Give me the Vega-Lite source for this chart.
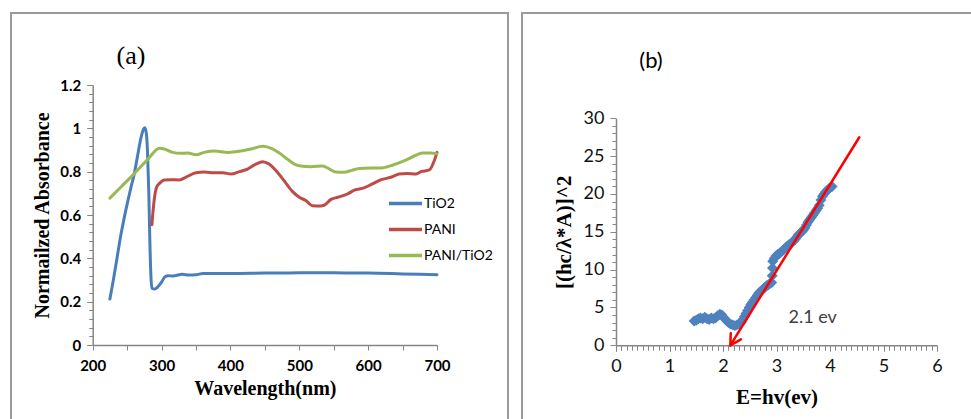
{
"$schema":"https://vega.github.io/schema/vega-lite/v6.json",
"padding":{"left":10,"top":12,"right":0,"bottom":0},
"bounds":"flush",
"spacing":14,
"config":{"view":{"stroke":"#9a9a9a","strokeWidth":2},"font":"Lato",
 "axis":{"grid":false,"domainColor":"#868686","tickColor":"#868686","domainWidth":1.5,"tickWidth":1,"labelColor":"#000","titleColor":"#000","labelFlush":false,"labelOverlap":false}},
"hconcat":[
{
 "width":497,"height":410,
 "resolve":{"axis":{"x":"independent","y":"independent"}},
 "layer":[
  {"data":{"values":[
{"w":225,"a":0.212,"s":"TiO2"},{"w":230,"a":0.30,"s":"TiO2"},{"w":235,"a":0.395,"s":"TiO2"},{"w":241,"a":0.51,"s":"TiO2"},{"w":245,"a":0.575,"s":"TiO2"},{"w":250,"a":0.65,"s":"TiO2"},{"w":255,"a":0.72,"s":"TiO2"},{"w":260,"a":0.785,"s":"TiO2"},{"w":265,"a":0.87,"s":"TiO2"},{"w":270,"a":0.955,"s":"TiO2"},{"w":273,"a":0.99,"s":"TiO2"},{"w":275.5,"a":1.003,"s":"TiO2"},{"w":277.5,"a":0.985,"s":"TiO2"},{"w":279.5,"a":0.9,"s":"TiO2"},{"w":281.5,"a":0.7,"s":"TiO2"},{"w":283,"a":0.48,"s":"TiO2"},{"w":284.5,"a":0.32,"s":"TiO2"},{"w":286,"a":0.262,"s":"TiO2"},{"w":290,"a":0.258,"s":"TiO2"},{"w":295,"a":0.27,"s":"TiO2"},{"w":300,"a":0.29,"s":"TiO2"},{"w":305,"a":0.315,"s":"TiO2"},{"w":310,"a":0.32,"s":"TiO2"},{"w":316,"a":0.318,"s":"TiO2"},{"w":322,"a":0.322,"s":"TiO2"},{"w":330,"a":0.326,"s":"TiO2"},{"w":340,"a":0.323,"s":"TiO2"},{"w":350,"a":0.324,"s":"TiO2"},{"w":360,"a":0.33,"s":"TiO2"},{"w":380,"a":0.33,"s":"TiO2"},{"w":400,"a":0.33,"s":"TiO2"},{"w":450,"a":0.332,"s":"TiO2"},{"w":500,"a":0.333,"s":"TiO2"},{"w":550,"a":0.333,"s":"TiO2"},{"w":600,"a":0.332,"s":"TiO2"},{"w":650,"a":0.328,"s":"TiO2"},{"w":700,"a":0.324,"s":"TiO2"},
{"w":286,"a":0.555,"s":"PANI"},{"w":288,"a":0.63,"s":"PANI"},{"w":290.5,"a":0.697,"s":"PANI"},{"w":293,"a":0.73,"s":"PANI"},{"w":297,"a":0.746,"s":"PANI"},{"w":304,"a":0.762,"s":"PANI"},{"w":314,"a":0.763,"s":"PANI"},{"w":326,"a":0.762,"s":"PANI"},{"w":335,"a":0.774,"s":"PANI"},{"w":350,"a":0.795,"s":"PANI"},{"w":362,"a":0.798,"s":"PANI"},{"w":377,"a":0.795,"s":"PANI"},{"w":389,"a":0.795,"s":"PANI"},{"w":401,"a":0.789,"s":"PANI"},{"w":413,"a":0.80,"s":"PANI"},{"w":425,"a":0.812,"s":"PANI"},{"w":437,"a":0.835,"s":"PANI"},{"w":447,"a":0.846,"s":"PANI"},{"w":456,"a":0.835,"s":"PANI"},{"w":466,"a":0.805,"s":"PANI"},{"w":478,"a":0.758,"s":"PANI"},{"w":490,"a":0.709,"s":"PANI"},{"w":500,"a":0.682,"s":"PANI"},{"w":510,"a":0.666,"s":"PANI"},{"w":519,"a":0.643,"s":"PANI"},{"w":531,"a":0.642,"s":"PANI"},{"w":536,"a":0.645,"s":"PANI"},{"w":546,"a":0.672,"s":"PANI"},{"w":556,"a":0.682,"s":"PANI"},{"w":570,"a":0.697,"s":"PANI"},{"w":580,"a":0.715,"s":"PANI"},{"w":594,"a":0.725,"s":"PANI"},{"w":604,"a":0.74,"s":"PANI"},{"w":619,"a":0.763,"s":"PANI"},{"w":633,"a":0.774,"s":"PANI"},{"w":645,"a":0.789,"s":"PANI"},{"w":657,"a":0.792,"s":"PANI"},{"w":669,"a":0.789,"s":"PANI"},{"w":677,"a":0.80,"s":"PANI"},{"w":689,"a":0.808,"s":"PANI"},{"w":696,"a":0.85,"s":"PANI"},{"w":700,"a":0.889,"s":"PANI"},
{"w":225,"a":0.678,"s":"PANI/TiO2"},{"w":240,"a":0.726,"s":"PANI/TiO2"},{"w":260,"a":0.79,"s":"PANI/TiO2"},{"w":280,"a":0.857,"s":"PANI/TiO2"},{"w":297,"a":0.908,"s":"PANI/TiO2"},{"w":304,"a":0.905,"s":"PANI/TiO2"},{"w":316,"a":0.889,"s":"PANI/TiO2"},{"w":328,"a":0.885,"s":"PANI/TiO2"},{"w":338,"a":0.886,"s":"PANI/TiO2"},{"w":350,"a":0.878,"s":"PANI/TiO2"},{"w":362,"a":0.889,"s":"PANI/TiO2"},{"w":377,"a":0.895,"s":"PANI/TiO2"},{"w":396,"a":0.889,"s":"PANI/TiO2"},{"w":415,"a":0.895,"s":"PANI/TiO2"},{"w":430,"a":0.905,"s":"PANI/TiO2"},{"w":447,"a":0.917,"s":"PANI/TiO2"},{"w":461,"a":0.905,"s":"PANI/TiO2"},{"w":471,"a":0.886,"s":"PANI/TiO2"},{"w":483,"a":0.857,"s":"PANI/TiO2"},{"w":493,"a":0.835,"s":"PANI/TiO2"},{"w":502,"a":0.826,"s":"PANI/TiO2"},{"w":517,"a":0.823,"s":"PANI/TiO2"},{"w":534,"a":0.826,"s":"PANI/TiO2"},{"w":541,"a":0.817,"s":"PANI/TiO2"},{"w":551,"a":0.80,"s":"PANI/TiO2"},{"w":565,"a":0.797,"s":"PANI/TiO2"},{"w":575,"a":0.805,"s":"PANI/TiO2"},{"w":587,"a":0.815,"s":"PANI/TiO2"},{"w":604,"a":0.817,"s":"PANI/TiO2"},{"w":619,"a":0.817,"s":"PANI/TiO2"},{"w":636,"a":0.831,"s":"PANI/TiO2"},{"w":653,"a":0.851,"s":"PANI/TiO2"},{"w":670,"a":0.877,"s":"PANI/TiO2"},{"w":679,"a":0.886,"s":"PANI/TiO2"},{"w":691,"a":0.886,"s":"PANI/TiO2"},{"w":700,"a":0.882,"s":"PANI/TiO2"}
  ]},
  "mark":{"type":"line","strokeWidth":3,"interpolate":"monotone","strokeCap":"round"},
   "encoding":{
    "x":{"field":"w","type":"quantitative","scale":{"domain":[200,700],"range":[81.7,426]},
     "axis":{"title":"Wavelength(nm)","orient":"bottom","offset":-78,"values":[200,300,400,500,600,700],"format":"d","tickSize":5,"labelPadding":8,"labelOverlap":false,"labelFlush":false,"labelFont":"Lato","labelFontWeight":"bold","labelFontSize":15,"titleFont":"Liberation Serif","titleFontSize":20,"titleFontWeight":"bold","titlePadding":5}},
    "y":{"field":"a","type":"quantitative","scale":{"domain":[0,1.2],"range":[332,72]},
     "axis":{"title":"Normailzed Absorbance","orient":"left","offset":-81.7,"values":[0,0.2,0.4,0.6,0.8,1,1.2],"format":"~g",
      "tickSize":6,"labelOverlap":false,"labelFlush":false,
      "labelPadding":6,"labelFont":"Lato","labelFontWeight":"bold","labelFontSize":15,"titleFont":"Liberation Serif","titleFontSize":20,"titleFontWeight":"bold","titlePadding":7}},
    "color":{"field":"s","type":"nominal","scale":{"domain":["TiO2","PANI","PANI/TiO2"],"range":["#4A7EBB","#BE4B48","#98B954"]},
     "legend":{"orient":"none","legendX":376,"legendY":172,"title":null,"padding":0,"symbolType":"stroke","symbolSize":1089,"symbolStrokeWidth":3.5,"labelFont":"Lato","labelFontSize":14,"labelColor":"#000","labelOffset":0,"rowPadding":-5.3}}
   }},
  {"data":{"values":[{}]},
   "mark":{"type":"text","font":"Liberation Serif","fontSize":26,"align":"center","baseline":"middle","color":"#000"},
   "encoding":{
    "x":{"datum":255.6,"type":"quantitative","scale":{"domain":[200,700],"range":[81.7,426]},
     "axis":{"orient":"bottom","offset":-78,"values":[250,350,450,550,650],"labels":false,"domain":false,"title":null,"tickSize":5}},
    "y":{"datum":1.334,"type":"quantitative","scale":{"domain":[0,1.2],"range":[332,72]},
     "axis":{"orient":"left","offset":-81.7,"values":[0.04,0.08,0.12,0.16,0.24,0.28,0.32,0.36,0.44,0.48,0.52,0.56,0.64,0.68,0.72,0.76,0.84,0.88,0.92,0.96,1.04,1.08,1.12,1.16],"labels":false,"domain":false,"title":null,"tickSize":4}},
    "text":{"value":"(a)"}}}
 ]
},
{
 "width":470,"height":410,
 "resolve":{"axis":{"x":"independent","y":"independent"}},
 "layer":[
  {"data":{"values":[
{"e":1.46,"v":3.2},{"e":1.50,"v":3.3},{"e":1.54,"v":3.5},{"e":1.58,"v":3.6},{"e":1.62,"v":3.5},{"e":1.66,"v":3.7},{"e":1.70,"v":3.5},{"e":1.74,"v":3.4},{"e":1.78,"v":3.6},{"e":1.82,"v":3.5},{"e":1.86,"v":3.6},{"e":1.90,"v":3.9},{"e":1.94,"v":4.1},{"e":1.98,"v":4.0},{"e":2.02,"v":3.6},{"e":2.06,"v":3.3},{"e":2.10,"v":3.0},{"e":2.14,"v":2.8},{"e":2.18,"v":2.7},{"e":2.22,"v":2.6},{"e":2.26,"v":2.7},{"e":2.30,"v":2.8},{"e":2.34,"v":3.0},{"e":2.37,"v":3.4},{"e":2.40,"v":3.8},{"e":2.43,"v":4.2},{"e":2.46,"v":4.6},{"e":2.49,"v":5.0},{"e":2.52,"v":5.4},{"e":2.55,"v":5.7},{"e":2.58,"v":6.0},{"e":2.61,"v":6.3},{"e":2.64,"v":6.6},{"e":2.67,"v":6.9},{"e":2.70,"v":7.1},{"e":2.73,"v":7.3},{"e":2.76,"v":7.5},{"e":2.79,"v":7.7},{"e":2.82,"v":7.9},{"e":2.85,"v":8.0},{"e":2.88,"v":8.2},{"e":2.91,"v":8.3},{"e":2.92,"v":9.2},{"e":2.925,"v":10.2},{"e":2.93,"v":11.1},{"e":2.96,"v":11.5},{"e":2.99,"v":11.8},{"e":3.02,"v":12.0},{"e":3.05,"v":12.1},{"e":3.08,"v":12.3},{"e":3.11,"v":12.5},{"e":3.14,"v":12.7},{"e":3.17,"v":12.9},{"e":3.20,"v":13.1},{"e":3.23,"v":13.3},{"e":3.26,"v":13.4},{"e":3.29,"v":13.6},{"e":3.32,"v":13.8},{"e":3.35,"v":14.0},{"e":3.38,"v":14.3},{"e":3.41,"v":14.6},{"e":3.44,"v":14.8},{"e":3.47,"v":15.0},{"e":3.50,"v":15.2},{"e":3.53,"v":15.5},{"e":3.56,"v":15.9},{"e":3.59,"v":16.3},{"e":3.62,"v":16.6},{"e":3.65,"v":16.9},{"e":3.68,"v":17.2},{"e":3.71,"v":17.5},{"e":3.74,"v":17.8},{"e":3.77,"v":18.1},{"e":3.80,"v":18.5},{"e":3.83,"v":19.2},{"e":3.86,"v":19.7},{"e":3.89,"v":20.0},{"e":3.92,"v":20.3},{"e":3.95,"v":20.5},{"e":3.98,"v":20.7},{"e":4.01,"v":20.9},{"e":4.04,"v":21.0}
   ]},
   "mark":{"type":"point","shape":"diamond","filled":true,"size":120,"opacity":1,"color":"#4F81BD"},
   "encoding":{
    "x":{"field":"e","type":"quantitative","scale":{"domain":[0,6],"range":[94,415]},
     "axis":{"title":"E=hv(ev)","orient":"bottom","offset":-77.7,"values":[0,1,2,3,4,5,6],"format":"d",
      "tickSize":6,"labelOverlap":false,"labelFlush":false,
      "labelPadding":6,"labelFont":"Lato","labelFontSize":18,"labelColor":"#111","titleFont":"Liberation Serif","titleFontSize":21,"titleFontWeight":"bold","titlePadding":11}},
    "y":{"field":"v","type":"quantitative","scale":{"domain":[0,30],"range":[332.3,105.3]},
     "axis":{"title":"[(hc/λ*A)]^2","orient":"left","offset":-94,"values":[0,5,10,15,20,25,30],"format":"d",
      "tickSize":6,"labelOverlap":false,"labelFlush":false,
      "labelPadding":6,"labelFont":"Lato","labelFontSize":18,"labelColor":"#111","titleFont":"Liberation Serif","titleFontSize":21,"titleFontWeight":"bold","titlePadding":9}}
   }},
  {"data":{"values":[
    {"x1":4.548,"y1":27.5,"x2":2.137,"y2":0},
    {"x1":2.137,"y1":0,"x2":2.335,"y2":0.78},
    {"x1":2.137,"y1":0,"x2":2.145,"y2":1.6}
   ]},
   "mark":{"type":"rule","color":"#FF0000","strokeWidth":2.5,"strokeCap":"round"},
   "encoding":{
    "x":{"field":"x1","type":"quantitative","scale":{"domain":[0,6],"range":[94,415]},"axis":null},
    "y":{"field":"y1","type":"quantitative","scale":{"domain":[0,30],"range":[332.3,105.3]},"axis":null},
    "x2":{"field":"x2"},"y2":{"field":"y2"}
   }},
  {"data":{"values":[{}]},
   "mark":{"type":"text","font":"Lato","fontSize":22,"align":"center","baseline":"middle","color":"#000"},
   "encoding":{
    "x":{"datum":0.654,"type":"quantitative","scale":{"domain":[0,6],"range":[94,415]},
     "axis":{"orient":"bottom","offset":-77.7,"values":[0.1,0.2,0.3,0.4,0.5,0.6,0.7,0.8,0.9,1.1,1.2,1.3,1.4,1.5,1.6,1.7,1.8,1.9,2.1,2.2,2.3,2.4,2.5,2.6,2.7,2.8,2.9,3.1,3.2,3.3,3.4,3.5,3.6,3.7,3.8,3.9,4.1,4.2,4.3,4.4,4.5,4.6,4.7,4.8,4.9,5.1,5.2,5.3,5.4,5.5,5.6,5.7,5.8,5.9],"labels":false,"domain":false,"title":null,"tickSize":5}},
    "y":{"datum":37.56,"type":"quantitative","scale":{"domain":[0,30],"range":[332.3,105.3]},
     "axis":{"orient":"left","offset":-94,"values":[1,2,3,4,6,7,8,9,11,12,13,14,16,17,18,19,21,22,23,24,26,27,28,29],"labels":false,"domain":false,"title":null,"tickSize":4}},
    "text":{"value":"(b)"}}},
  {"data":{"values":[{}]},
   "mark":{"type":"text","font":"Lato","fontSize":18,"align":"center","baseline":"middle","color":"#404040"},
   "encoding":{"x":{"datum":3.677,"type":"quantitative","scale":{"domain":[0,6],"range":[94,415]},"axis":null},"y":{"datum":3.65,"type":"quantitative","scale":{"domain":[0,30],"range":[332.3,105.3]},"axis":null},"text":{"value":"2.1 ev"}}}
 ]
}
]
}
